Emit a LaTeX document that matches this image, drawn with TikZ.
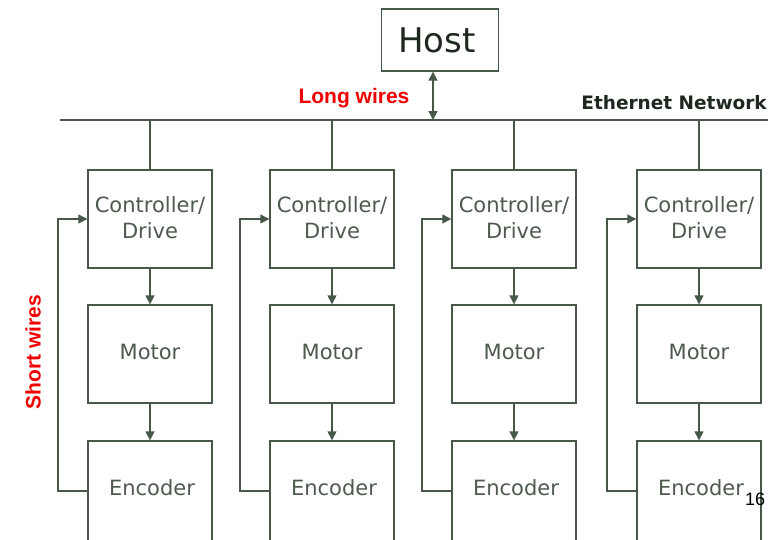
\documentclass[tikz,border=0pt]{standalone}
\usepackage{fontspec}
\setmainfont{DejaVu Sans}
\newfontfamily\arialfont{Liberation Sans}
\usetikzlibrary{arrows.meta,calc}
\definecolor{linec}{RGB}{72,88,72}
\definecolor{textc}{RGB}{78,90,78}
\definecolor{netc}{RGB}{30,40,30}
\definecolor{redc}{RGB}{240,0,0}
\tikzset{
  box/.style={draw=linec, line width=1.4pt, minimum width=124pt, minimum height=98pt, inner sep=0pt},
  lbl/.style={text=textc, font=\fontsize{21}{26}\selectfont, align=center, inner sep=0pt},
  wire/.style={draw=linec, line width=1.4pt},
  tip/.style={Triangle[length=9pt,width=9pt]},
  arr/.style={wire, -{Triangle[length=9pt,width=9pt]}},
  redlbl/.style={text=redc, font=\arialfont\bfseries\fontsize{21}{25}\selectfont, inner sep=0pt}
}
\begin{document}
\begin{tikzpicture}[x=1pt,y=-1pt]
\useasboundingbox (0,0) rectangle (784,539);
\clip (0,0) rectangle (784,539);
\fill[white] (0,0) rectangle (784,539);
% host
\node[box, minimum width=117pt, minimum height=62pt] (host) at (440,40) {};
\node[text=netc, font=\fontsize{34}{40}\selectfont, inner sep=0pt] (hostt) at (437,40) {Host};
% bus
\coordinate (busL) at (60,120);
\coordinate (busR) at (768,120);
\coordinate (hA) at (433,120);
\draw[wire] (busL) -- (busR);
\draw[wire, {Triangle[length=9pt,width=9pt]}-{Triangle[length=9pt,width=9pt]}] (hA |- host.south) -- (hA);
\node[text=netc, font=\bfseries\fontsize{18.5}{22}\selectfont, anchor=east, inner sep=0pt] (net) at (767,103) {Ethernet Network};
\node[redlbl] (long) at (354,98) {Long wires};
\node[redlbl, rotate=90] (short) at (33,352) {Short wires};
% columns
\foreach \i/\cx in {1/150,2/332,3/514,4/699}{
  \node[box] (ctl\i) at (\cx,219) {};
  \node[lbl] (ctlt\i) at (\cx,218) {Controller/\\Drive};
  \node[box] (mot\i) at (\cx,354) {};
  \node[lbl] (mott\i) at (\cx,352) {Motor};
  \node[box, minimum height=140pt] (enc\i) at (\cx,511) {};
  \node[lbl] (enct\i) at (\cx+2,488) {Encoder};
  \coordinate (bus\i) at (\cx,120);
  \coordinate (fbA\i) at (\cx-92,491);
  \draw[wire] (bus\i) -- (ctl\i.north);
  \draw[arr] (ctl\i.south) -- (mot\i.north);
  \draw[arr] (mot\i.south) -- (enc\i.north);
  \draw[arr] (enc\i.west |- fbA\i) -- (fbA\i) -- (fbA\i |- ctl\i.west) -- (ctl\i.west);
}
\node[text=black, font=\arialfont\fontsize{18}{20}\selectfont, inner sep=0pt] (pg) at (755,499) {16};
\end{tikzpicture}
\end{document}
